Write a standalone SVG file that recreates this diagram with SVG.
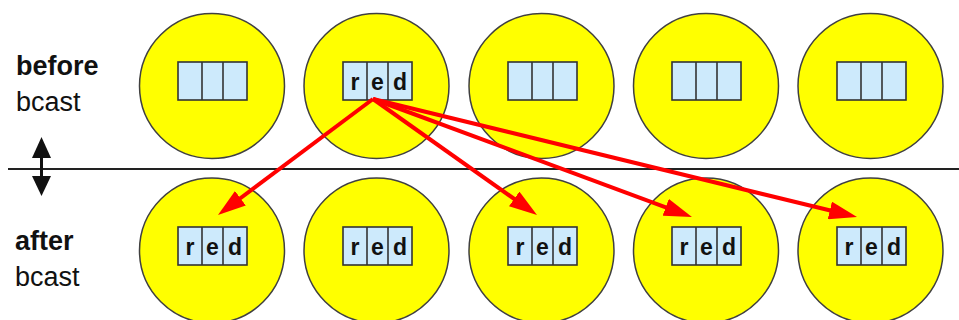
<svg xmlns="http://www.w3.org/2000/svg" width="959" height="320" viewBox="0 0 959 320">
  <style>
    .proc { fill: #ffff00; stroke: #404040; stroke-width: 1.5; }
    .cell { fill: #cdeafc; stroke: #333333; stroke-width: 1.6; }
    .ch { font-family: "Liberation Sans", Arial, sans-serif; font-weight: bold; font-size: 23px; fill: #111; text-anchor: middle; }
    .lbl { font-family: "Liberation Sans", Arial, sans-serif; font-size: 27px; fill: #111; }
    .bold { font-weight: bold; }
    .send { stroke: #ff0000; stroke-width: 4; fill: none; marker-end: url(#redhead); }
  </style>
  <defs>
    <marker id="redhead" markerUnits="userSpaceOnUse" markerWidth="28" markerHeight="18" refX="8" refY="9" orient="auto">
      <path d="M0,0 L28,9 L0,18 Z" fill="#ff0000"/>
    </marker>
    <!-- three-slot buffer -->
    <g id="buf">
      <rect class="cell" x="0" y="0" width="69" height="38"/>
      <line class="cell" x1="24" y1="0" x2="24" y2="38"/>
      <line class="cell" x1="45" y1="0" x2="45" y2="38"/>
    </g>
    <g id="bufred">
      <use href="#buf"/>
      <text class="ch" x="12" y="28">r</text>
      <text class="ch" x="34.5" y="28">e</text>
      <text class="ch" x="57" y="28">d</text>
    </g>
  </defs>

  <rect width="959" height="320" fill="#ffffff"/>

  <!-- row labels -->
  <text class="lbl bold" x="16" y="75">before</text>
  <text class="lbl" x="16" y="111">bcast</text>
  <text class="lbl bold" x="15" y="250">after</text>
  <text class="lbl" x="15" y="286">bcast</text>

  <!-- separator and time arrow -->
  <line x1="8" y1="169" x2="959" y2="169" stroke="#222" stroke-width="2"/>
  <g id="time-arrow" fill="#111" stroke="#111">
    <line x1="41.5" y1="154" x2="41.5" y2="180" stroke-width="3"/>
    <path d="M41.5,137 L51,158 L32,158 Z" stroke="none"/>
    <path d="M41.5,196 L51,176 L32,176 Z" stroke="none"/>
  </g>

  <!-- before broadcast -->
  <g id="p0-before"><circle class="proc" cx="212" cy="86" r="72.5"/><use href="#buf" x="178" y="62"/></g>
  <g id="p1-before"><circle class="proc" cx="376.5" cy="86" r="72.5"/><use href="#bufred" x="343" y="62"/></g>
  <g id="p2-before"><circle class="proc" cx="541.5" cy="86" r="72.5"/><use href="#buf" x="508" y="62"/></g>
  <g id="p3-before"><circle class="proc" cx="706" cy="86" r="72.5"/><use href="#buf" x="672" y="62"/></g>
  <g id="p4-before"><circle class="proc" cx="870.5" cy="86" r="72.5"/><use href="#buf" x="837" y="62"/></g>

  <!-- after broadcast -->
  <g id="p0-after"><circle class="proc" cx="212" cy="250.5" r="72.5"/><use href="#bufred" x="178" y="227"/></g>
  <g id="p1-after"><circle class="proc" cx="376.5" cy="250.5" r="72.5"/><use href="#bufred" x="343" y="227"/></g>
  <g id="p2-after"><circle class="proc" cx="541.5" cy="250.5" r="72.5"/><use href="#bufred" x="508" y="227"/></g>
  <g id="p3-after"><circle class="proc" cx="706" cy="250.5" r="72.5"/><use href="#bufred" x="672" y="227"/></g>
  <g id="p4-after"><circle class="proc" cx="870.5" cy="250.5" r="72.5"/><use href="#bufred" x="837" y="227"/></g>

  <!-- broadcast messages from the root -->
  <g id="connectors">
    <line class="send" x1="373" y1="99" x2="234" y2="203"/>
    <line class="send" x1="373" y1="99" x2="520.7" y2="203.5"/>
    <line class="send" x1="373" y1="99" x2="673.2" y2="210.1"/>
    <line class="send" x1="373" y1="99" x2="837.6" y2="212.3"/>
  </g>
</svg>
